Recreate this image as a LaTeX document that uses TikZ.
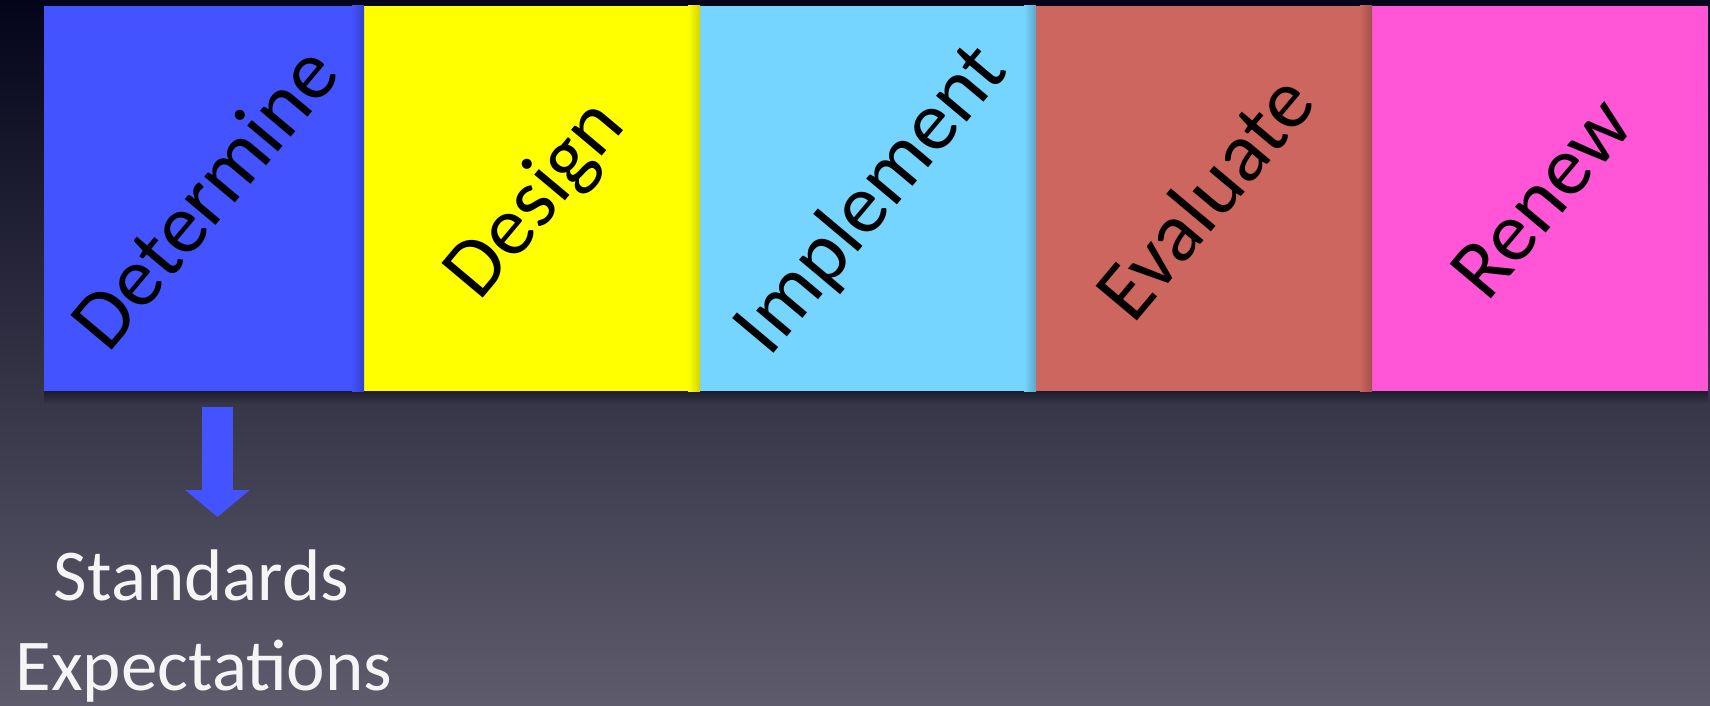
\documentclass[tikz,border=0pt]{standalone}
\usepackage{fontspec}
\setmainfont{Carlito}
\usetikzlibrary{arrows.meta}
\definecolor{bgtop}{RGB}{4,4,26}
\definecolor{bgbot}{RGB}{94,92,108}
\definecolor{cblue}{RGB}{66,83,255}
\definecolor{cyellow}{RGB}{255,255,0}
\definecolor{ccyan}{RGB}{117,213,255}
\definecolor{cred}{RGB}{204,102,94}
\definecolor{cpink}{RGB}{255,85,214}
\definecolor{shadowc}{RGB}{28,28,44}
\definecolor{bgat}{RGB}{54,54,72}
\begin{document}
\begin{tikzpicture}[x=1pt,y=-1pt,
  stagebox/.style={inner sep=0pt, draw=none, minimum height=385pt},
  stagelabel/.style={inner sep=0pt, text=black, rotate=50,
     font=\fontsize{84}{100}\selectfont, text height=0.62em, text depth=0.2em},
  bigarrow/.style={draw=cblue, line width=31pt,
     -{Triangle[width=63pt,length=27pt]}},
  outtext/.style={inner sep=0pt, text={rgb,255:red,245;green,245;blue,245},
     font=\fontsize{73}{90}\selectfont, anchor=base}]
\useasboundingbox (0,0) rectangle (1710,705);
\shade[top color=bgtop, bottom color=bgbot] (0,0) rectangle (1710,705);
% shadow below the boxes
\shade[top color=shadowc, bottom color=bgat] (44,391) rectangle (1708,404);
% boxes
\node[stagebox, fill=cblue,   minimum width=320pt] (b1) at (204,198.5) {};
\node[stagebox, fill=cyellow, minimum width=336pt] (b2) at (532,198.5) {};
\node[stagebox, fill=ccyan,   minimum width=336pt] (b3) at (868,198.5) {};
\node[stagebox, fill=cred,    minimum width=336pt] (b4) at (1204,198.5) {};
\node[stagebox, fill=cpink,   minimum width=336pt] (b5) at (1540,198.5) {};
% shadows at the joints
\shade[left color=cblue,   right color=cblue!78!black]   ([xshift=-12pt]b1.north east) rectangle (b1.south east);
\shade[left color=cyellow, right color=cyellow!82!black] ([xshift=-12pt]b2.north east) rectangle (b2.south east);
\shade[left color=ccyan,   right color=ccyan!78!black]   ([xshift=-12pt]b3.north east) rectangle (b3.south east);
\shade[left color=cred,    right color=cred!78!black]    ([xshift=-12pt]b4.north east) rectangle (b4.south east);
% labels
\node[stagelabel] (t1) at ([xshift=20pt,yshift=-15pt]b1.center) {Determine};
\node[stagelabel] (t2) at ([xshift=20pt,yshift=-15pt]b2.center) {Design};
\node[stagelabel] (t3) at ([xshift=20pt,yshift=-15pt]b3.center) {Implement};
\node[stagelabel] (t4) at ([xshift=20pt,yshift=-15pt]b4.center) {Evaluate};
\node[stagelabel] (t5) at ([xshift=20pt,yshift=-15pt]b5.center) {Renew};
% arrow and outputs
\node[outtext] (std) at (201.5,600) {Standards};
\node[outtext] (exp) at (204,690) {Expectations};
\coordinate (as) at (217.5,407);
\coordinate (ae) at (217.5,517);
\draw[bigarrow] (as) -- (ae);
\end{tikzpicture}
\end{document}
